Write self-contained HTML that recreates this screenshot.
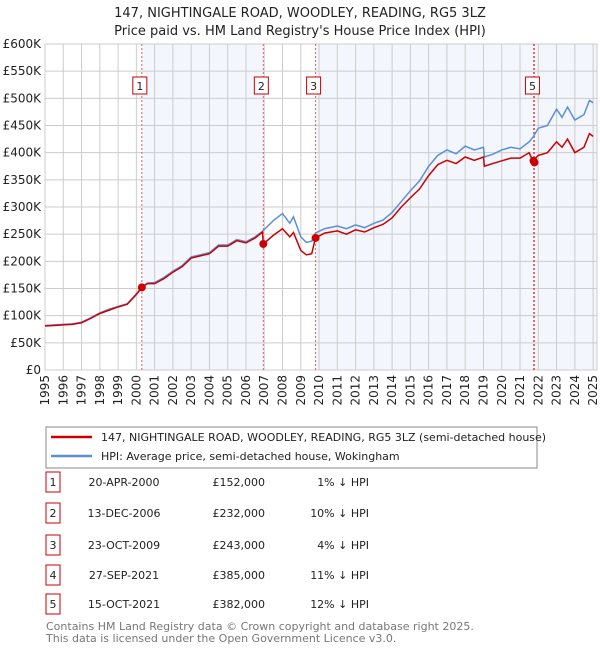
<!DOCTYPE html>
<html><head><meta charset="utf-8"><style>
body{margin:0;background:#fff;font-family:"Liberation Sans","DejaVu Sans",sans-serif;}
svg text{font-family:"DejaVu Sans","Liberation Sans",sans-serif;}
</style></head><body>
<svg id="c" width="600" height="650" xmlns="http://www.w3.org/2000/svg">
<text x="300" y="17" text-anchor="middle" font-size="13" fill="#222">147, NIGHTINGALE ROAD, WOODLEY, READING, RG5 3LZ</text>
<text x="300" y="35" text-anchor="middle" font-size="13" fill="#222">Price paid vs. HM Land Registry's House Price Index (HPI)</text>
<g id="plot"></g>
<g>
<rect x="46" y="427" width="491" height="41" fill="#fff" stroke="#888"/>
<line x1="51" y1="437" x2="92" y2="437" stroke="#cc0000" stroke-width="2.5"/>
<text x="101" y="441" font-size="11" fill="#222">147, NIGHTINGALE ROAD, WOODLEY, READING, RG5 3LZ (semi-detached house)</text>
<line x1="51" y1="456" x2="92" y2="456" stroke="#5b8fd6" stroke-width="2.5"/>
<text x="101" y="460" font-size="11" fill="#222">HPI: Average price, semi-detached house, Wokingham</text>
</g>
<g id="table"></g>
<text x="46" y="630" font-size="11" fill="#777">Contains HM Land Registry data © Crown copyright and database right 2025.</text>
<text x="46" y="642" font-size="11" fill="#777">This data is licensed under the Open Government Licence v3.0.</text>
</svg>
<script>
const years=[1995,1995.5,1996,1996.5,1997,1997.5,1998,1998.5,1999,1999.5,2000,2000.3,2000.6,2001,2001.5,2002,2002.5,2003,2003.5,2004,2004.5,2005,2005.5,2006,2006.5,2006.9,2006.95,2007.5,2008,2008.4,2008.6,2009,2009.3,2009.6,2009.8,2010.3,2011,2011.5,2012,2012.5,2013,2013.5,2014,2014.5,2015,2015.5,2016,2016.5,2017,2017.5,2018,2018.5,2019,2019.05,2019.5,2020,2020.5,2021,2021.5,2021.7,2022,2022.5,2023,2023.3,2023.6,2024,2024.5,2024.8,2025];
const hpi=[82,83,84,85,88,96,105,112,117,122,140,153,160,161,170,182,192,208,212,216,230,230,240,236,245,255,257,275,288,270,282,245,235,237,252,260,265,260,267,262,270,276,290,310,330,348,375,395,405,398,412,405,410,392,397,405,410,407,420,428,445,450,480,465,484,460,470,496,492];
const price=[81,82,83,84,87,95,104,110,116,121,139,152,159,159,168,180,190,206,210,214,228,228,238,234,243,254,232,248,260,245,253,220,212,214,243,252,256,250,258,254,262,268,280,300,317,333,358,378,386,380,392,386,392,375,380,385,390,390,400,385,395,400,420,410,425,400,410,435,430];
const saleIds=["1","2","3","4","5"];
const saleT=[2000.30,2006.95,2009.81,2021.74,2021.79];
const saleP=[152,232,243,385,382];
const saleDates=["20-APR-2000","13-DEC-2006","23-OCT-2009","27-SEP-2021","15-OCT-2021"];
const salePrices=["£152,000","£232,000","£243,000","£385,000","£382,000"];
const saleHpi=["1% ↓ HPI","10% ↓ HPI","4% ↓ HPI","11% ↓ HPI","12% ↓ HPI"];
const yTicks=[0,50,100,150,200,250,300,350,400,450,500,550,600];
const yTickLabels=["£0","£50K","£100K","£150K","£200K","£250K","£300K","£350K","£400K","£450K","£500K","£550K","£600K"];
const xTicks=[1995,1996,1997,1998,1999,2000,2001,2002,2003,2004,2005,2006,2007,2008,2009,2010,2011,2012,2013,2014,2015,2016,2017,2018,2019,2020,2021,2022,2023,2024,2025];

const NS="http://www.w3.org/2000/svg";
const L=45,R=597,T=44,B=370;
const x=t=>L+(t-1995)*18.27;
const y=v=>B-v/600*(B-T);
const g=document.getElementById('plot');
function mk(tag,a,p){const e=document.createElementNS(NS,tag);for(const k in a)e.setAttribute(k,a[k]);(p||g).appendChild(e);return e;}
const shades=[[saleT[0],saleT[1]],[saleT[2],saleT[3]],[saleT[4],2025.2]];
shades.forEach(s=>{const r=mk('rect',{x:x(s[0]),y:T,width:Math.min(x(s[1]),R)-x(s[0]),height:B-T,fill:'#f3f6fd'});

});
yTicks.forEach((v,i)=>{mk('line',{x1:L,x2:R,y1:y(v),y2:y(v),stroke:'#ccc','stroke-width':1});
const t=mk('text',{x:L-4,y:y(v)+4,'text-anchor':'end','font-size':12,fill:'#222'});t.textContent=yTickLabels[i];

});
xTicks.forEach(v=>{mk('line',{x1:x(v),x2:x(v),y1:T,y2:B,stroke:'#ccc','stroke-width':1});
const t=mk('text',{x:0,y:0,'text-anchor':'end','font-size':12,fill:'#222',transform:`translate(${x(v)+4},${B+5}) rotate(-90)`});t.textContent=v;

});
mk('rect',{x:L,y:T,width:R-L,height:B-T,fill:'none',stroke:'#ccc'});
saleT.forEach(t=>{const l=mk('line',{x1:x(t),x2:x(t),y1:T,y2:B,stroke:'#e06060','stroke-width':1,'stroke-dasharray':'2,2'});

});
const hp=mk('polyline',{points:years.map((t,i)=>x(t)+','+y(hpi[i])).join(' '),fill:'none',stroke:'#5b8fd6','stroke-width':1.5});


const pp=mk('polyline',{points:years.map((t,i)=>x(t)+','+y(price[i])).join(' '),fill:'none',stroke:'#cc0000','stroke-width':1.5});


saleT.forEach((t,i)=>{const c=mk('circle',{cx:x(t),cy:y(saleP[i]),r:4,fill:'#cc0000'});

});
saleT.forEach((t,i)=>{if(i===3)return;const bx=x(t)-2;
const r=mk('rect',{x:bx-7,y:77,width:14,height:17,fill:'#fff',stroke:'#cc0000'});


const tx=mk('text',{x:bx,y:90,'text-anchor':'middle','font-size':11,fill:'#222'});tx.textContent=saleIds[i];});
const tb=document.getElementById('table');
const rowY=[482,513,545,575,604];
saleIds.forEach((id,i)=>{const yy=rowY[i];
const r=mk('rect',{x:46,y:yy-10,width:14,height:20,fill:'#fff',stroke:'#cc0000'},tb);


const a=mk('text',{x:53,y:yy+4,'text-anchor':'middle','font-size':11,fill:'#222'},tb);a.textContent=id;
const d=mk('text',{x:124,y:yy+4,'text-anchor':'middle','font-size':11,fill:'#222'},tb);d.textContent=saleDates[i];


const p=mk('text',{x:265,y:yy+4,'text-anchor':'end','font-size':11,fill:'#222'},tb);p.textContent=salePrices[i];


const h=mk('text',{x:369,y:yy+4,'text-anchor':'end','font-size':11,fill:'#222'},tb);h.textContent=saleHpi[i];

});
</script>
</body></html>
